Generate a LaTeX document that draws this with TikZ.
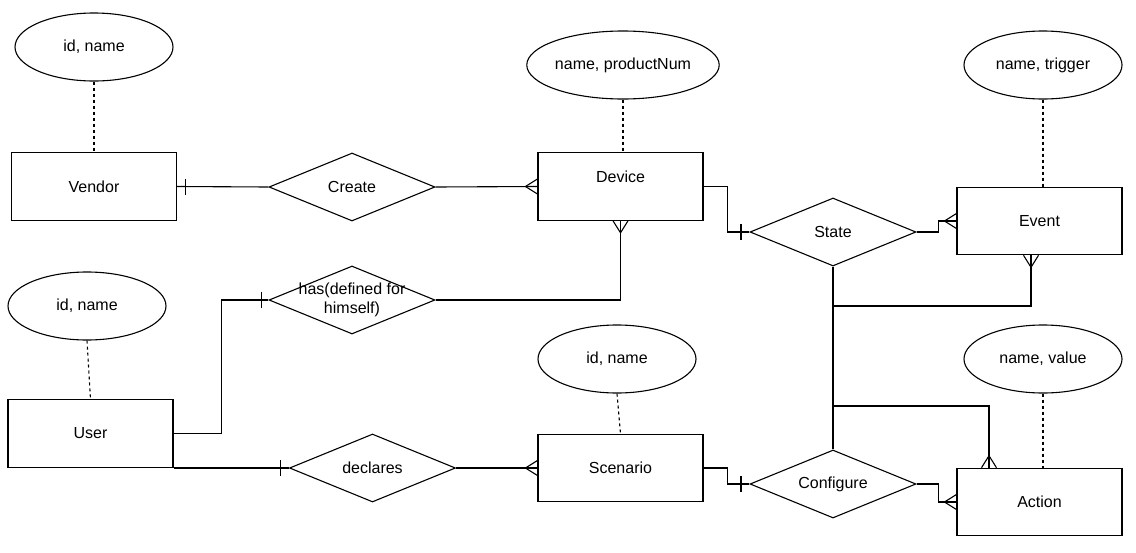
\documentclass[tikz,border=0pt]{standalone}
\usepackage{fontspec}
\setmainfont{Liberation Sans}
\usetikzlibrary{shapes.geometric,calc}
\tikzset{
  every node/.style={font=\fontsize{16}{19}\selectfont},
  entity/.style={draw, line width=1.1pt, rectangle, minimum width=165pt, minimum height=67.5pt, inner sep=0pt},
  rel/.style={draw, line width=1.1pt, diamond, minimum width=166pt, minimum height=68pt, inner sep=0pt},
  attr/.style={draw, line width=1.1pt, ellipse, minimum width=158pt, minimum height=68pt, inner sep=0pt},
  conn/.style={line width=1.1pt},
  attrline/.style={line width=1.1pt, dash pattern=on 3pt off 3pt},
  crow/.pic={\draw[line width=1.1pt] (-12,0) -- (0,7.5) (-12,0) -- (0,-7.5);},
  onebar/.pic={\draw[line width=1.1pt] (-8.5,-8) -- (-8.5,8);}
}
\begin{document}
\begin{tikzpicture}[x=1pt,y=-1pt]
\useasboundingbox (0,0) rectangle (1136,552);
% attributes
\node[attr] (va) at (94,47) {id, name};
\node[attr] (da) at (623,65) {name, productNum};
\node[attr] (ea) at (1043,65) {name, trigger};
\node[attr] (ua) at (87,306) {id, name};
\node[attr] (sa) at (617,359) {id, name};
\node[attr] (aa) at (1043,359) {name, value};
% entities
\node[entity] (vendor) at (94,186.5) {Vendor};
\node[entity, label={[yshift=10pt]center:Device}] (device) at (620.5,186.5) {};
\node[entity] (event) at (1039.5,221) {Event};
\node[entity] (user) at (90.5,433.5) {User};
\node[entity] (scenario) at (620.5,468) {Scenario};
\node[entity] (action) at (1039.5,502) {Action};
% relationships
\node[rel, label={center:Create}] (create) at (352,187) {};
\node[rel, label={center:State}] (state) at (833,232) {};
\node[rel, label={[align=center]center:has(defined for\\himself)}] (has) at (352,300) {};
\node[rel, label={center:declares}] (declares) at (372.5,468) {};
\node[rel, label={center:Configure}] (configure) at (833,484) {};
% attribute links
\draw[attrline] (va.south) -- (vendor.north);
\draw[attrline] (da.south) -- (da.south |- device.north);
\draw[attrline] (ea.south) -- (ea.south |- event.north);
\draw[attrline] (ua.south) -- (user.north);
\draw[attrline] (sa.south) -- (scenario.north);
\draw[attrline] (aa.south) -- (aa.south |- action.north);
% helper coordinates
\coordinate (eb) at ([xshift=-8.5pt]event.south);
\coordinate (at) at ([xshift=-50.5pt]action.north);
\coordinate (j1) at (833,306);
\coordinate (j2) at (833,406);
% connectors
\draw[conn] (vendor.east) -- (create.west);
\draw[conn] (create.east) -- (device.west);
\draw[conn] (device.east) -- ++(24,0) |- (state.west);
\draw[conn] (state.east) -- ++(22,0) |- (event.west);
\draw[conn] (state.south) -- (configure.north);
\draw[conn] (eb) |- (j1);
\draw[conn] (j2) -| (at);
\draw[conn] (user.east) -- ++(48,0) |- (has.west);
\draw[conn] (has.east) -| (device.south);
\draw[conn] (declares.west -| user.east) -- (declares.west);
\draw[conn] (declares.east) -- (scenario.west);
\draw[conn] (scenario.east) -- ++(24,0) |- (configure.west);
\draw[conn] (configure.east) -- ++(22,0) |- (action.west);
% cardinality marks
\pic[rotate=180] at (vendor.east) {onebar};
\pic at (state.west) {onebar};
\pic[xshift=1.5pt] at (has.west) {onebar};
\pic at (declares.west) {onebar};
\pic at (configure.west) {onebar};
\pic at (device.west) {crow};
\pic[rotate=90] at (device.south) {crow};
\pic at (event.west) {crow};
\pic[rotate=90] at (eb) {crow};
\pic at (scenario.west) {crow};
\pic at (action.west) {crow};
\pic[rotate=-90] at (at) {crow};
\end{tikzpicture}
\end{document}
